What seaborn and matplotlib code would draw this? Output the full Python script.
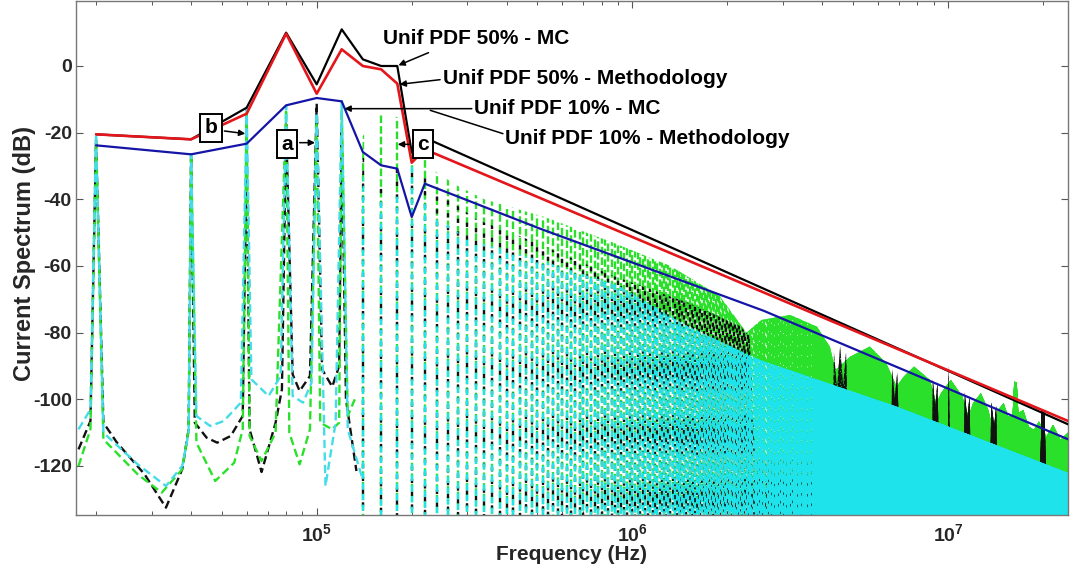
"""
Current spectrum of the switching waveform: harmonic envelopes (MC vs methodology)
over the dashed harmonic spectra, log frequency axis.
"""

import numpy as np
import pandas as pd
import matplotlib
matplotlib.use("Agg")
import matplotlib.pyplot as plt
import seaborn as sns
from matplotlib.patches import Polygon

# ---- envelopes (solid lines), read at the harmonics ----
env_freq = [20e3, 40e3, 60e3, 80e3, 100e3, 120e3, 140e3, 160e3, 180e3, 200e3, 220e3, 24e6]
env_50_mc = [-20.5, -22, -12.5, 10, -5.5, 11, 2, 0, 0, -26, -21.5, -107.5]
env_50_meth = [-20.5, -22, -14.3, 9.7, -8.3, 5, 0, -1, -5.3, -29, -25, -106.5]
blue_freq = [20e3, 40e3, 60e3, 80e3, 100e3, 120e3, 140e3, 160e3, 180e3, 200e3, 220e3, 510e3, 2.6e6, 24e6]
env_10 = [-23.8, -26.5, -23.3, -11.8, -9.6, -10.6, -25.8, -29.8, -30.8, -45.3, -35.3, -48.8, -73.4, -112]

# ---- low harmonics of the dashed spectra (peaks and troughs) ----
black_lo_f = [17.6e3, 19.2e3, 20e3, 21.1e3, 23.3e3, 28.5e3, 33.3e3, 37.5e3, 39.3e3, 40e3, 41.1e3,
              44.8e3, 48.4e3, 53.4e3, 58.3e3, 60e3, 61.3e3, 66.9e3, 74.1e3, 77.6e3, 80e3, 83.9e3,
              88.3e3, 95.2e3, 100e3, 104e3, 112e3, 117.8e3, 120e3, 123.8e3, 133.6e3]
black_lo_db = [-115, -106.5, -22, -107, -113, -122.5, -132.5, -121, -109, -26.5, -107,
               -111.5, -113, -111, -105, -24, -109, -121.8, -107, -97, -17.5, -92.5,
               -97.5, -93, -11.3, -91, -96.2, -90, -17.8, -100, -121.5]

cyan_lo_f = [17.6e3, 19.2e3, 20e3, 21.1e3, 27.1e3, 33.3e3, 37.5e3, 39.3e3, 40e3, 41.6e3, 46e3,
             50.8e3, 57.5e3, 60e3, 62.1e3, 70.4e3, 76.9e3, 80e3, 83.9e3, 90.5e3, 96.3e3, 100e3,
             106.6e3, 114.8e3, 120e3, 125.4e3, 138.8e3]
cyan_lo_db = [-109, -103, -20.5, -110, -119.5, -126, -120, -110, -26.5, -105, -108,
              -106.5, -101, -12.5, -94, -99, -93, -12, -99, -101, -95, -14,
              -126, -107, -10.5, -109, -123]

green_lo_f = [17.6e3, 19.2e3, 20e3, 21.1e3, 27.1e3, 32.3e3, 37.5e3, 39.3e3, 40e3, 41.6e3, 47.7e3,
              54.8e3, 58.3e3, 60e3, 61.3e3, 66.9e3, 74.1e3, 80e3, 81.9e3, 88.3e3, 95.2e3, 100e3,
              102.6e3, 112e3, 117.8e3, 120e3, 125.4e3, 132e3]
green_lo_db = [-120, -109, -23, -112, -122.5, -128, -121, -109, -26.5, -113, -124.5,
               -119, -109, -14, -111, -118.5, -110, -13, -110, -119.5, -109, -15,
               -107, -109, -107, -13, -105, -100]

# ---- upper harmonics: peak outline of each dashed spectrum ----
fundamental = 20e3
harmonics = fundamental * np.arange(7, 1201)

green_top_f = [130e3, 140e3, 160e3, 180e3, 200e3, 220e3, 240e3, 280e3, 340e3, 535e3, 870e3, 1.32e6,
               1.89e6, 2.3e6, 2.56e6, 3.16e6, 3.84e6, 4.22e6, 4.4e6, 4.9e6, 5.65e6, 6.37e6, 6.87e6,
               7.24e6, 7.8e6, 8.75e6, 9.18e6, 9.5e6, 1.02e7, 1.11e7, 1.16e7, 1.2e7, 1.27e7, 1.34e7,
               1.39e7, 1.44e7, 1.5e7, 1.55e7, 1.6e7, 1.62e7, 1.65e7, 1.67e7, 1.73e7, 1.8e7, 1.87e7,
               1.94e7, 2.05e7, 2.15e7, 2.27e7, 2.4e7]
green_top_db = [-105, -21, -14.3, -15.3, -24.3, -27, -32, -36, -40, -45.5, -53, -60,
                -69, -80, -76.2, -74.7, -78.2, -84.2, -91.2, -87.2, -84.2, -89.2, -96.2,
                -93.2, -90.2, -94.2, -101.2, -98.2, -94.2, -99.2, -105.2, -101.2, -98.2, -103.2,
                -109.2, -103.2, -101.2, -105.2, -105, -94.7, -95, -104.2, -103.2, -108.2, -109.2,
                -106.7, -111.2, -107.7, -112.2, -110]

black_top_f = [130e3, 140e3, 160e3, 180e3, 200e3, 220e3, 240e3, 280e3, 320e3, 440e3, 620e3, 870e3,
               1.5e6, 2.19e6, 2.35e6, 2.45e6,
               4.3e6, 4.35e6, 4.45e6, 4.55e6, 4.65e6, 4.75e6, 4.85e6,
               6.6e6, 6.65e6, 6.78e6, 6.9e6, 7.05e6,
               8.9e6, 8.95e6, 9.1e6, 9.25e6, 9.4e6,
               9.95e6, 1.005e7, 1.015e7,
               1.12e7, 1.13e7, 1.15e7, 1.17e7, 1.18e7,
               1.36e7, 1.37e7, 1.4e7, 1.42e7, 1.43e7,
               1.95e7, 1.98e7, 2.02e7, 2.05e7, 2.4e7]
black_top_db = [-110, -27, -35, -29, -31, -33, -37, -42, -46, -51, -57, -63,
                -71, -78, -81, -118,
                -118, -86, -97, -84, -96, -86, -118,
                -120, -91, -100, -92, -120,
                -122, -94, -103, -95, -124,
                -124, -90, -124,
                -124, -98, -106, -99, -126,
                -126, -101, -108, -102, -128,
                -128, -103, -104, -130, -130]

cyan_top_f = [130e3, 140e3, 160e3, 180e3, 200e3, 220e3, 240e3, 300e3, 500e3, 910e3, 1.49e6,
              2.54e6, 6.87e6, 2.41e7]
cyan_top_db = [-120, -33, -40, -38, -28, -40, -45, -52, -58, -66, -78, -88.2, -102.2, -122.2]

# ---- text ----
curve_labels = ["Unif PDF 50% - MC", "Unif PDF 50% - Methodology",
                "Unif PDF 10% - MC", "Unif PDF 10% - Methodology"]
label_pos = [(1.626e5, 8.2), (2.516e5, -3.8), (3.14e5, -12.8), (3.94e5, -21.8)]
arrow_from = [(2.26e5, 4.0), (2.46e5, -4.1), (3.1e5, -12.8), (3.89e5, -20.3)]
arrow_to = [(1.815e5, 0.2), (1.83e5, -5.5), (1.224e5, -12.8), (2.29e5, -13.3)]
arrow_head = [True, True, True, False]

marker_labels = ["b", "a", "c"]
marker_pos = [(4.63e4, -18.5), (8.05e4, -23.5), (2.17e5, -23.5)]
marker_from = [(5.1e4, -19.5), (8.83e4, -23.0), (1.97e5, -23.5)]
marker_to = [(5.94e4, -20.3), (9.88e4, -23.0), (1.806e5, -23.5)]

BLACK = "#111111"
CYAN = "#1FE3EA"
CYAN_LIGHT = "#45DCE8"
GREEN = "#2BE02B"
RED = "#E3161C"
BLUE = "#1414A6"

sns.set_style("ticks")
plt.rcParams["font.family"] = ["Liberation Sans", "DejaVu Sans"]
plt.rcParams["axes.unicode_minus"] = False
plt.rcParams["mathtext.fontset"] = "custom"
plt.rcParams["mathtext.bf"] = "Liberation Sans:bold"
plt.rcParams["mathtext.rm"] = "Liberation Sans:bold"

fig = plt.figure(figsize=(10.71, 5.73), dpi=100)
fig.patch.set_facecolor("white")
ax = fig.add_axes([76 / 1071, 58 / 573, 992 / 1071, 514 / 573])
ax.set_xscale("log")
xmin, xmax = 1.728e4, 2.398e7
ymin, ymax = -134.7, 19.5
ax.set_xlim(xmin, xmax)
ax.set_ylim(ymin, ymax)

# dense upper harmonics: one vertical dashed line per harmonic, cut at the peak outline
n_h = len(harmonics)
dash_offsets = (np.arange(n_h) * 2.3) % 6
for top_f, top_db, color, dash, z in [(green_top_f, green_top_db, GREEN, (3.2, 1.3), 2.0),
                                      (black_top_f, black_top_db, BLACK, (1.8, 3.6), 2.1),
                                      (cyan_top_f, cyan_top_db, CYAN, (2.6, 1.9), 2.2)]:
    styles = [(o, dash) for o in dash_offsets]
    lc = ax.vlines(harmonics, ymin - 5, ymax + 5, colors=color, linewidth=1.7,
                   linestyles=styles, zorder=z)
    verts = list(zip(top_f, top_db)) + [(top_f[-1], ymin - 10), (top_f[0], ymin - 10)]
    outline = Polygon(verts, closed=True, transform=ax.transData)
    lc.set_clip_path(outline)

# low harmonics drawn as dashed curves
for f, db, color, z in [(black_lo_f, black_lo_db, BLACK, 2.0),
                        (green_lo_f, green_lo_db, GREEN, 2.1),
                        (cyan_lo_f, cyan_lo_db, CYAN_LIGHT, 2.2)]:
    sns.lineplot(data=pd.DataFrame({"freq": f, "db": db}), x="freq", y="db", ax=ax,
                 color=color, linewidth=1.7, linestyle=(0, (3.5, 1.8)),
                 sort=False, estimator=None, zorder=z)

# envelopes
sns.lineplot(data=pd.DataFrame({"freq": blue_freq, "db": env_10}), x="freq", y="db", ax=ax,
             color=BLUE, linewidth=1.6, sort=False, estimator=None, zorder=4)
sns.lineplot(data=pd.DataFrame({"freq": env_freq, "db": env_50_mc}), x="freq", y="db", ax=ax,
             color="black", linewidth=1.6, sort=False, estimator=None, zorder=4.1)
sns.lineplot(data=pd.DataFrame({"freq": env_freq, "db": env_50_meth}), x="freq", y="db", ax=ax,
             color=RED, linewidth=1.9, sort=False, estimator=None, zorder=4.2)

# curve labels with leader arrows
for txt, pos, a0, a1, head in zip(curve_labels, label_pos, arrow_from, arrow_to, arrow_head):
    ax.text(pos[0], pos[1], txt, ha="left", va="center", fontsize=15,
            fontweight="bold", color="black", zorder=6)
    ax.annotate("", xy=a1, xytext=a0,
                arrowprops=dict(arrowstyle="-|>" if head else "-", color="black", lw=1.1,
                                mutation_scale=9, shrinkA=0, shrinkB=0),
                zorder=6)

# boxed markers a, b, c
for txt, pos, a0, a1 in zip(marker_labels, marker_pos, marker_from, marker_to):
    ax.annotate("", xy=a1, xytext=a0,
                arrowprops=dict(arrowstyle="-|>", color="black", lw=1.1,
                                mutation_scale=9, shrinkA=0, shrinkB=0),
                zorder=6)
    ax.text(pos[0], pos[1], txt, ha="center", va="center", fontsize=15,
            fontweight="bold", color="black", zorder=7,
            bbox=dict(boxstyle="square,pad=0.22", fc="white", ec="black", lw=1.4))

# axes styling (inward ticks on all sides)
ax.set_xticks([1e5, 1e6, 1e7])
ax.set_xticklabels([r"$\mathbf{10^{5}}$", r"$\mathbf{10^{6}}$", r"$\mathbf{10^{7}}$"])
ax.set_yticks(np.arange(-120, 1, 20))
ax.tick_params(axis="both", which="both", direction="in", top=True, right=True,
               color="#555555", labelsize=14, pad=3)
ax.tick_params(axis="both", which="major", length=5, width=0.8)
ax.tick_params(axis="x", which="minor", length=3, width=0.7)
ax.tick_params(axis="x", which="major", pad=6)
for lab in ax.get_yticklabels():
    lab.set_fontweight("bold")
for s in ax.spines.values():
    s.set_color("#777777")
    s.set_linewidth(1.0)

ax.set_xlabel("Frequency (Hz)", fontsize=15, fontweight="bold")
ax.set_ylabel("Current Spectrum (dB)", fontsize=17, fontweight="bold")
ax.xaxis.set_label_coords(0.5, -0.058)
ax.yaxis.set_label_coords(-0.040, 0.509)

fig.savefig("out.png", dpi=100, facecolor="white")
plt.close(fig)
